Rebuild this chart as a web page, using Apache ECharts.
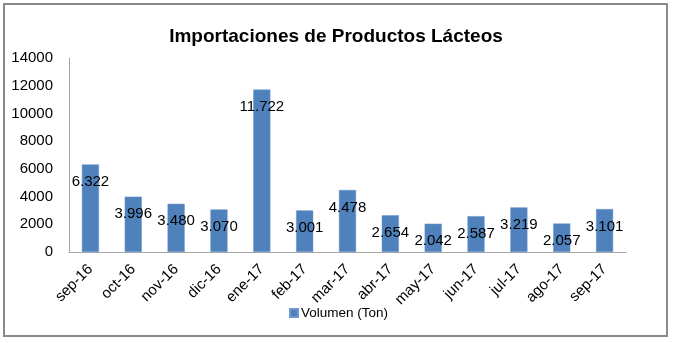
<!DOCTYPE html>
<html>
<head>
<meta charset="utf-8">
<script src="https://cdn.jsdelivr.net/npm/echarts@6/dist/echarts.min.js"></script>
<style>
html,body{margin:0;padding:0;background:#fff;}
#frame{position:absolute;left:3px;top:3px;width:665px;height:334px;border:2px solid #8a8a8a;box-sizing:border-box;}
#chart{position:absolute;left:0;top:0;width:673px;height:343px;}
</style>
</head>
<body>
<div id="frame"></div>
<div id="chart"></div>
<script>
const categories = ['sep-16','oct-16','nov-16','dic-16','ene-17','feb-17','mar-17','abr-17','may-17','jun-17','jul-17','ago-17','sep-17'];
const volumen = [6322, 3996, 3480, 3070, 11722, 3001, 4478, 2654, 2042, 2587, 3219, 2057, 3101];
const seriesName = 'Volumen (Ton)';
const chartTitle = 'Importaciones de Productos Lácteos';

function fmt(v){
  const s = String(Math.round(v));
  return s.replace(/\B(?=(\d{3})+(?!\d))/g, '.');
}

const chart = echarts.init(document.getElementById('chart'), null, {renderer:'canvas'});
chart.setOption({
  animation:false,
  backgroundColor:'transparent',
  title:{
    text: chartTitle,
    left: 331, top: 22, textAlign:'center',
    textStyle:{fontFamily:'"Liberation Sans Narrow","Arial Narrow","Liberation Sans",Arial,sans-serif',fontWeight:'bold',fontSize:19,color:'#000'}
  },
  legend:{
    data:[seriesName],
    left: 284, top: 301,
    itemWidth:8, itemHeight:8, itemGap:5,
    icon:'rect',
    textStyle:{fontFamily:'"Liberation Sans",Arial,sans-serif',fontSize:13.5,color:'#000',padding:[0,0,0,-2]}
  },
  grid:{left:69, right:47, top:58, bottom:91, containLabel:false, outerBoundsMode:'none'},
  xAxis:{
    type:'category', data:categories,
    axisLine:{show:true,lineStyle:{color:'#a6a6a6',width:1}},
    axisTick:{show:false},
    axisLabel:{rotate:45, margin:15, interval:0, color:'#000', fontSize:15, fontFamily:'"Liberation Sans",Arial,sans-serif'}
  },
  yAxis:{
    type:'value', min:0, max:14000, interval:2000,
    axisLine:{show:true,lineStyle:{color:'#a6a6a6',width:1}},
    axisTick:{show:false},
    splitLine:{show:false},
    axisLabel:{margin:16, color:'#000', fontSize:15, fontFamily:'"Liberation Sans",Arial,sans-serif', formatter:v=>String(v)}
  },
  series:[{
    name: seriesName,
    type:'bar',
    data: volumen,
    barWidth:'40%',
    itemStyle:{color:'#4F81BD', borderColor:'#6f98cc', borderWidth:0.5},
    label:{
      show:true, position:'insideTop', distance:10,
      formatter:p=>fmt(p.value),
      color:'#000', fontSize:15, fontFamily:'"Liberation Sans",Arial,sans-serif'
    }
  }]
});
</script>
</body>
</html>
